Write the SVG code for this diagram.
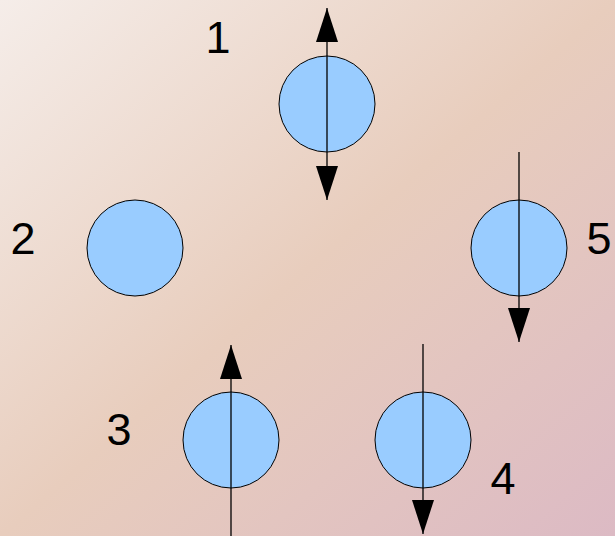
<svg xmlns="http://www.w3.org/2000/svg" width="615" height="536" viewBox="0 0 615 536">
  <defs>
    <linearGradient id="bg" x1="0" y1="0" x2="1" y2="1">
      <stop offset="0" stop-color="#f5ede9"/>
      <stop offset="0.5" stop-color="#e8cdbd"/>
      <stop offset="1" stop-color="#dcbac4"/>
    </linearGradient>
    <marker id="ah" viewBox="0 0 34 22" refX="34" refY="11" markerWidth="34" markerHeight="22" markerUnits="userSpaceOnUse" orient="auto-start-reverse">
      <path d="M0,0 L34,11 L0,22 Z" fill="#000"/>
    </marker>
    <style>
      .node { fill: #99ccff; stroke: #000; stroke-width: 1; }
      .conn { stroke: #000; stroke-width: 1.3; fill: none; }
      .lbl { font-family: "Liberation Sans", Arial, sans-serif; font-size: 45px; fill: #000; text-anchor: middle; }
    </style>
  </defs>
  <rect x="0" y="0" width="615" height="536" fill="url(#bg)"/>
  <g id="node1"><circle class="node" cx="327" cy="104" r="48"/><text class="lbl" x="218" y="53">1</text></g>
  <g id="node2"><circle class="node" cx="135" cy="248" r="48"/><text class="lbl" x="23" y="254">2</text></g>
  <g id="node5"><circle class="node" cx="519" cy="248" r="48"/><text class="lbl" x="599" y="254">5</text></g>
  <g id="node3"><circle class="node" cx="231" cy="440" r="48"/><text class="lbl" x="119" y="445">3</text></g>
  <g id="node4"><circle class="node" cx="423" cy="440" r="48"/><text class="lbl" x="503" y="494">4</text></g>
  <g id="connectors">
    <line class="conn" x1="327" y1="8" x2="327" y2="200" marker-start="url(#ah)" marker-end="url(#ah)"/>
    <line class="conn" x1="519" y1="152" x2="519" y2="342" marker-end="url(#ah)"/>
    <line class="conn" x1="231" y1="536" x2="231" y2="345" marker-end="url(#ah)"/>
    <line class="conn" x1="423" y1="344" x2="423" y2="534" marker-end="url(#ah)"/>
  </g>
</svg>
